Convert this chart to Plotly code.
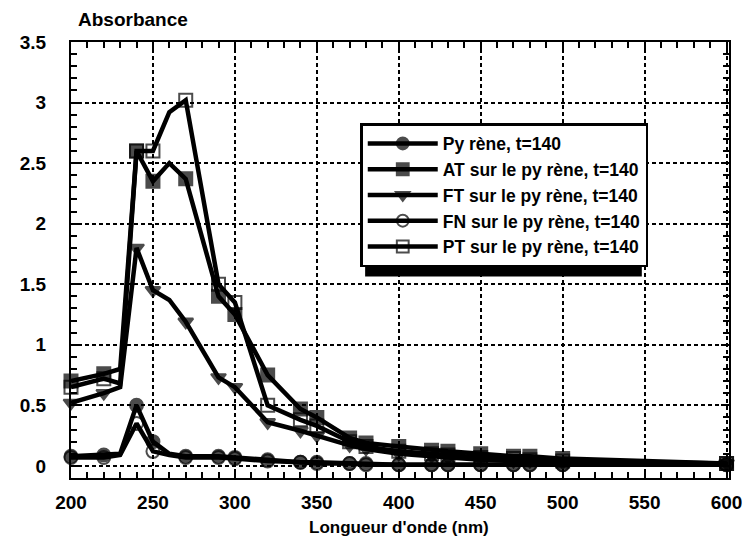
import plotly.graph_objects as go

# Wavelengths (nm) and absorbance values
wavelength = [200, 220, 230, 240, 250, 260, 270, 290, 300, 320, 340, 350,
              370, 380, 400, 420, 430, 450, 470, 480, 500, 600]
pyrene = [0.08, 0.09, 0.10, 0.50, 0.20, 0.10, 0.08, 0.08, 0.07, 0.05, 0.03, 0.03,
          0.02, 0.02, 0.01, 0.01, 0.01, 0.01, 0.01, 0.01, 0.01, 0.01]
at_pyrene = [0.70, 0.76, 0.80, 2.60, 2.35, 2.50, 2.37, 1.40, 1.25, 0.75, 0.47, 0.40,
             0.23, 0.19, 0.16, 0.13, 0.12, 0.10, 0.08, 0.08, 0.06, 0.02]
ft_pyrene = [0.52, 0.60, 0.65, 1.80, 1.45, 1.37, 1.19, 0.73, 0.65, 0.36, 0.29, 0.25,
             0.17, 0.14, 0.10, 0.08, 0.07, 0.05, 0.04, 0.04, 0.03, 0.02]
fn_pyrene = [0.07, 0.07, 0.09, 0.35, 0.12, 0.09, 0.07, 0.07, 0.06, 0.04, 0.03, 0.02,
             0.02, 0.01, 0.01, 0.01, 0.01, 0.01, 0.01, 0.01, 0.01, 0.01]
pt_pyrene = [0.65, 0.72, 0.68, 2.60, 2.60, 2.92, 3.02, 1.50, 1.35, 0.50, 0.38, 0.33,
             0.20, 0.16, 0.12, 0.10, 0.09, 0.07, 0.06, 0.05, 0.04, 0.02]

series = [
    ("Py rène, t=140", pyrene, "circle"),
    ("AT sur le py rène, t=140", at_pyrene, "square"),
    ("FT sur le py rène, t=140", ft_pyrene, "triangle-down"),
    ("FN sur le py rène, t=140", fn_pyrene, "circle-open"),
    ("PT sur le py rène, t=140", pt_pyrene, "square-open"),
]

# points drawn without a symbol in the original
unmarked = {230, 260}
sizes = [0 if w in unmarked else 13 for w in wavelength]

fig = go.Figure()
for name, vals, sym in series:
    fig.add_trace(go.Scatter(
        x=wavelength, y=vals, name=name, mode="lines+markers",
        line=dict(color="black", width=4.5),
        marker=dict(symbol=sym, size=sizes, color="black",
                    line=dict(color="black", width=2)),
        cliponaxis=False,
    ))

font = dict(family="Liberation Sans, Arial, sans-serif", color="black")

# page body has an 8px margin, so the figure is 8px smaller than the window
fig.update_layout(
    width=746, height=531,
    margin=dict(l=59, r=16, t=34, b=61),
    paper_bgcolor="white", plot_bgcolor="white",
    font=font,
    showlegend=True,
    legend=dict(x=0.4396, y=0.814, xanchor="left", yanchor="top",
                bgcolor="white", bordercolor="black", borderwidth=2.5,
                font=dict(size=17.5, weight="bold", **font), itemwidth=70),
    # drop shadow behind the legend box
    shapes=[dict(type="rect", xref="paper", yref="paper",
                 x0=0.447, x1=0.8675, y0=0.462, y1=0.803,
                 fillcolor="black", line=dict(width=0), layer="above")],
    annotations=[
        dict(text="Absorbance", xref="paper", yref="paper", x=0.0075, y=1.0516,
             xanchor="left", yanchor="middle", showarrow=False,
             font=dict(size=19, weight="bold", **font)),
        dict(text="Longueur d'onde (nm)", xref="paper", yref="paper", x=0.4978, y=-0.1124,
             xanchor="center", yanchor="middle", showarrow=False,
             font=dict(size=17, weight="bold", **font)),
    ],
)

axis_common = dict(
    showline=True, linecolor="black", linewidth=2, mirror="allticks",
    ticks="inside", ticklen=8, tickwidth=2, tickcolor="black",
    showgrid=True, gridcolor="black", gridwidth=2, griddash="4px,3px",
    zeroline=False,
    tickfont=dict(size=19, weight="bold", **font),
)

fig.update_xaxes(range=[200, 601.5], tick0=200, dtick=50,
                 minor=dict(dtick=10, ticks="inside", ticklen=6, tickwidth=2,
                            tickcolor="black", showgrid=False),
                 ticklabelstandoff=6, **axis_common)
fig.update_yaxes(range=[-0.1, 3.5], tick0=0, dtick=0.5,
                 minor=dict(dtick=0.1, ticks="inside", ticklen=6, tickwidth=2,
                            tickcolor="black", showgrid=False),
                 ticklabelstandoff=19, **axis_common)

fig.write_html("out.html")
